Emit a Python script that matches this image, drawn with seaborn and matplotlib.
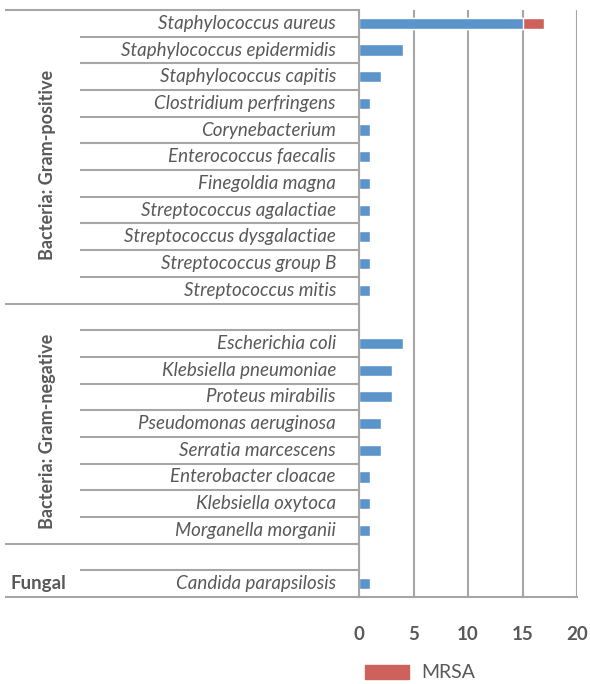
import pandas as pd
import seaborn as sns
import matplotlib.pyplot as plt
from matplotlib.patches import Patch
from matplotlib.transforms import blended_transform_factory

# Data
gram_pos = ["Staphylococcus aureus", "Staphylococcus epidermidis", "Staphylococcus capitis",
            "Clostridium perfringens", "Corynebacterium", "Enterococcus faecalis",
            "Finegoldia magna", "Streptococcus agalactiae", "Streptococcus dysgalactiae",
            "Streptococcus group B", "Streptococcus mitis"]
gram_pos_counts = [15, 4, 2, 1, 1, 1, 1, 1, 1, 1, 1]
gram_neg = ["Escherichia coli", "Klebsiella pneumoniae", "Proteus mirabilis",
            "Pseudomonas aeruginosa", "Serratia marcescens", "Enterobacter cloacae",
            "Klebsiella oxytoca", "Morganella morganii"]
gram_neg_counts = [4, 3, 3, 2, 2, 1, 1, 1]
fungal = ["Candida parapsilosis"]
fungal_counts = [1]
mrsa_species = ["Staphylococcus aureus"]
mrsa_counts = [2]
x_ticks = [0, 5, 10, 15, 20]

order = gram_pos + ["_gap1"] + gram_neg + ["_gap2"] + fungal
df = pd.DataFrame({"species": gram_pos + gram_neg + fungal,
                   "count": gram_pos_counts + gram_neg_counts + fungal_counts})
total = df.set_index("species")["count"].copy()
for s, m in zip(mrsa_species, mrsa_counts):
    total[s] += m
df_total = total.reset_index()

blue = "#5B93CB"
red = "#CD625C"
grey = "#A6A6A6"
txt = "#595959"

sns.set_style("white")
plt.rcParams["font.family"] = ["Lato", "DejaVu Sans"]

fig = plt.figure(figsize=(5.9, 6.84), dpi=100)
ax = fig.add_axes([359 / 590, 1 - 597 / 684, (577 - 359) / 590, (597 - 10) / 684])

# stacked bars: total in red, susceptible part drawn over it in blue
sns.barplot(data=df_total, y="species", x="count", order=order, color=red,
            width=0.42, saturation=1, ax=ax)
sns.barplot(data=df, y="species", x="count", order=order, color=blue,
            width=0.42, saturation=1, ax=ax)

ax.set_xlim(0, 20)
ax.set_ylim(len(order) - 0.5, -0.5)
ax.set_xticks(x_ticks)
ax.set_yticks([])
ax.set_xlabel("")
ax.set_ylabel("")
ax.xaxis.grid(True, color=grey, lw=1.5)
ax.set_axisbelow(True)
for side in ["top", "right"]:
    ax.spines[side].set_visible(False)
for side in ["left", "bottom"]:
    ax.spines[side].set_color(grey)
    ax.spines[side].set_linewidth(1.5)
ax.tick_params(axis="x", length=6, width=1.5, color=grey, pad=15, labelsize=13.5,
               labelcolor=txt)
for lab in ax.get_xticklabels():
    lab.set_fontweight("bold")

# hierarchical category labels
tr = blended_transform_factory(fig.transFigure, ax.transData)
for i, name in enumerate(order):
    if name.startswith("_"):
        continue
    ax.text(336 / 590, i, name, transform=tr, ha="right", va="center",
            fontsize=13.5, style="italic", color=txt)

# row separators (short) and group separators (long)
long_b = [-0.5, 10.5, 19.5, 21.5]
for b in range(len(order) + 1):
    y = b - 0.5
    x0 = 5 / 590 if y in long_b else 80 / 590
    ax.plot([x0, 359 / 590], [y, y], transform=tr, color=grey, lw=1.5,
            clip_on=False, solid_capstyle="butt")

ax.text(48 / 590, 1 - 165 / 684, "Bacteria: Gram-positive", transform=fig.transFigure,
        rotation=90, ha="center", va="center", fontsize=13, fontweight="bold", color=txt)
ax.text(48 / 590, 1 - 431 / 684, "Bacteria: Gram-negative", transform=fig.transFigure,
        rotation=90, ha="center", va="center", fontsize=13, fontweight="bold", color=txt)
ax.text(38 / 590, 21, "Fungal", transform=tr, ha="center", va="center",
        fontsize=13.5, fontweight="bold", color=txt)

fig.legend(handles=[Patch(color=red)], labels=["MRSA"], loc="center left",
           bbox_to_anchor=(351 / 590, 1 - 673 / 684), frameon=False, fontsize=14,
           handlelength=2.3, handleheight=0.75, handletextpad=0.6, labelcolor=txt,
           borderpad=0.2)

fig.savefig("out.png", dpi=100)
